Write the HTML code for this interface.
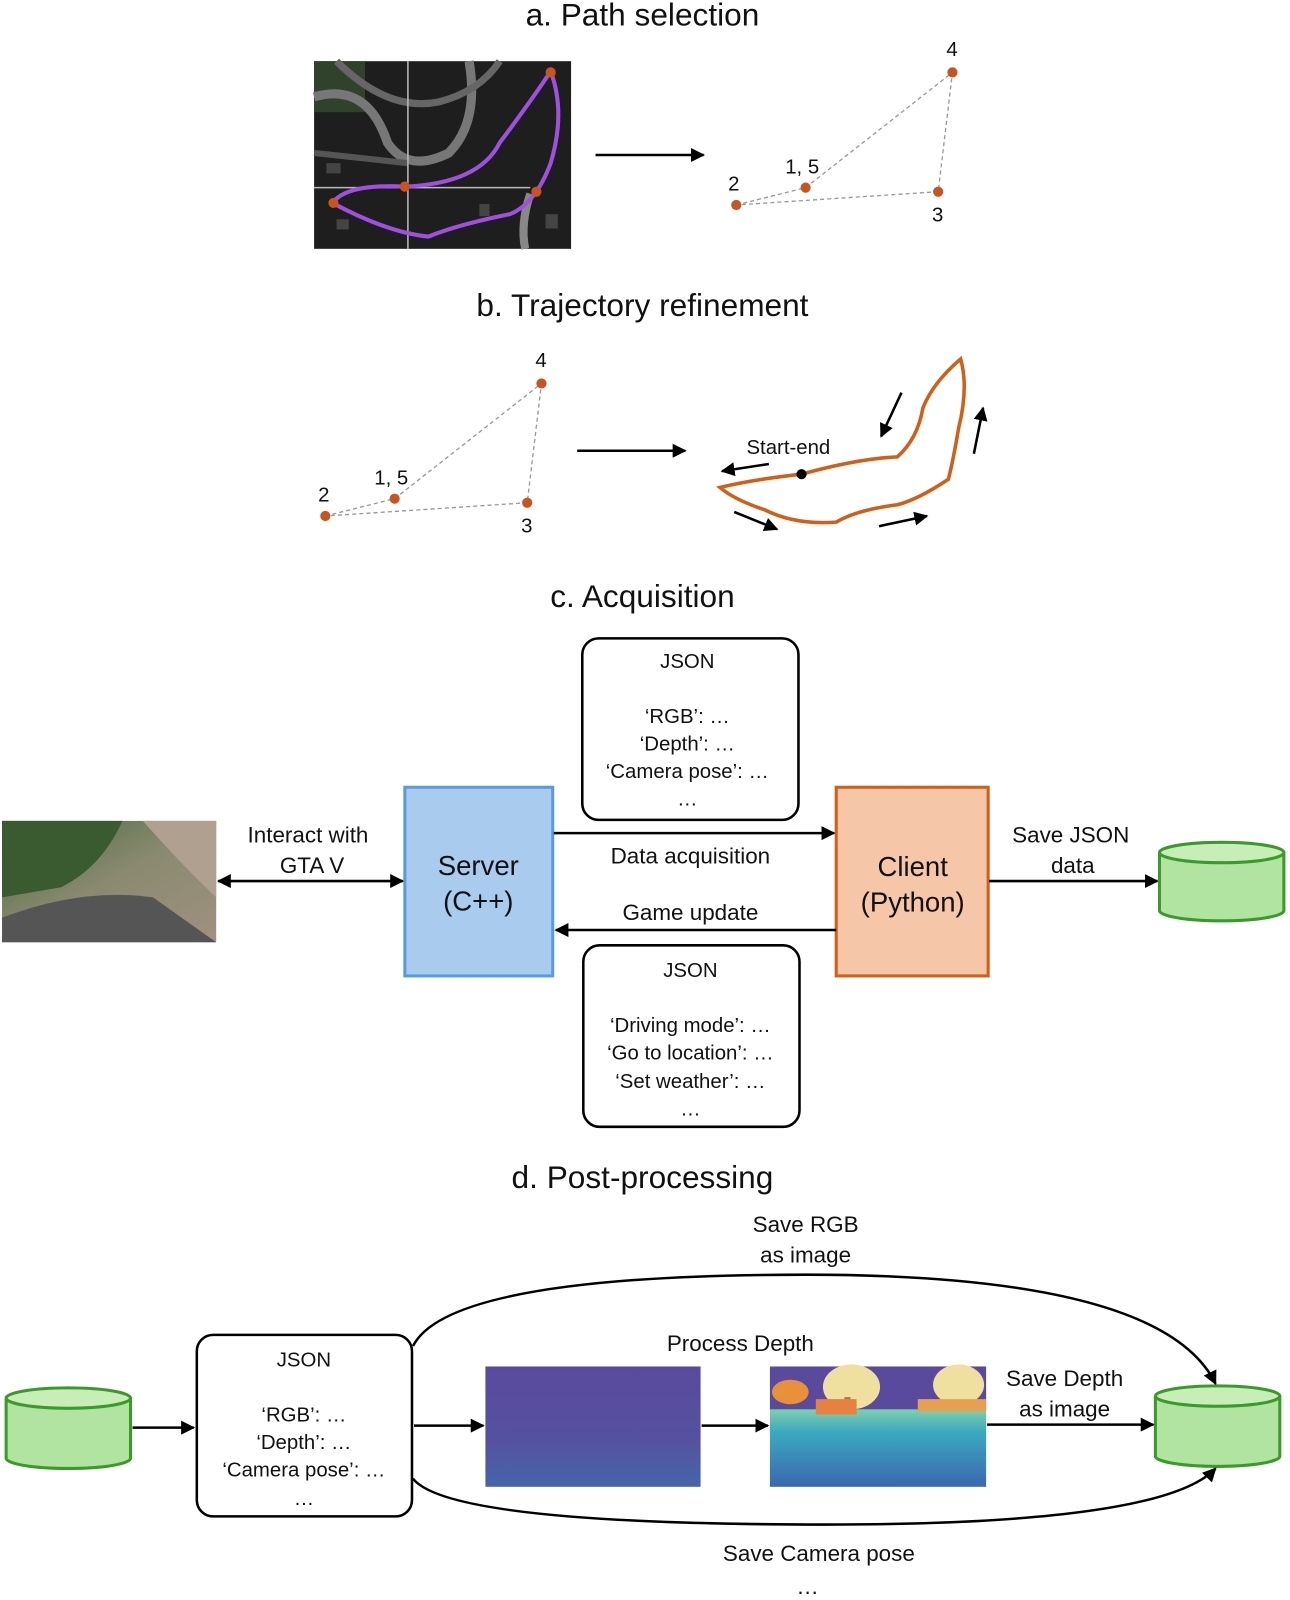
<!DOCTYPE html>
<html><head><meta charset="utf-8"><style>html,body{margin:0;padding:0;background:#fff}svg{display:block}text{font-family:"Liberation Sans",sans-serif;fill:#111}</style></head><body>
<svg width="1290" height="1600" viewBox="0 0 1265 1569" xmlns="http://www.w3.org/2000/svg">
<defs>
<marker id="a" viewBox="0 0 10 10" refX="9" refY="5" markerWidth="5.5" markerHeight="5.5" orient="auto-start-reverse"><path d="M0,0L10,5L0,10z" fill="#000"/></marker>
<linearGradient id="dg" x1="0" y1="0" x2="0" y2="1"><stop offset="0" stop-color="#5a4a9e"/><stop offset="0.6" stop-color="#5650a0"/><stop offset="1" stop-color="#4466aa"/></linearGradient>
<linearGradient id="cg" x1="0" y1="0" x2="0" y2="1"><stop offset="0" stop-color="#d8e8a0"/><stop offset="0.3" stop-color="#90dca8"/><stop offset="0.55" stop-color="#3aa8c0"/><stop offset="1" stop-color="#3a68b0"/></linearGradient>
<linearGradient id="pg" x1="0" y1="0" x2="1" y2="1"><stop offset="0" stop-color="#4a6a40"/><stop offset="0.5" stop-color="#8a8a70"/><stop offset="1" stop-color="#a09080"/></linearGradient>
</defs>
<g font-size="31"><text x="630" y="25" text-anchor="middle">a. Path selection</text>
<text x="630" y="310" text-anchor="middle">b. Trajectory refinement</text>
<text x="630" y="595" text-anchor="middle">c. Acquisition</text>
<text x="630" y="1165" text-anchor="middle">d. Post-processing</text></g>
<!-- map -->
<rect x="308" y="60" width="252" height="184" fill="#1e1e1e"/>
<rect x="308" y="60" width="50" height="50" fill="#354a30" opacity="0.8"/>
<path d="M308,95 Q360,80 380,140 Q400,170 440,150 Q470,120 460,60" stroke="#777" stroke-width="9" fill="none"/>
<path d="M330,60 Q380,110 430,100 Q470,90 490,60" stroke="#666" stroke-width="7" fill="none"/>
<path d="M520,190 Q510,220 515,244" stroke="#888" stroke-width="8" fill="none"/>
<path d="M308,150 L400,160" stroke="#555" stroke-width="6"/>
<g fill="#444"><rect x="330" y="215" width="12" height="10"/><rect x="470" y="200" width="10" height="12"/><rect x="535" y="210" width="12" height="14"/><rect x="320" y="160" width="14" height="10"/></g>
<line x1="400" y1="60" x2="400" y2="244" stroke="#bbb" stroke-width="1.5"/>
<line x1="308" y1="184" x2="520" y2="184" stroke="#bbb" stroke-width="1.5"/>
<path d="M326,199 Q340,180 397,183 Q470,180 490,140 Q520,100 540,70 Q555,110 540,160 Q525,200 500,210 Q450,220 420,232 Q380,228 326,199z" stroke="#a050e0" stroke-width="4" fill="none"/>
<g fill="#c85520"><circle cx="540" cy="71" r="5"/><circle cx="526" cy="188" r="5"/><circle cx="397" cy="183" r="5"/><circle cx="327" cy="199" r="5"/></g>
<line x1="584" y1="152" x2="690" y2="152" stroke="#000" stroke-width="2.5" marker-end="url(#a)"/>
<!-- a dots -->
<g stroke="#999" stroke-dasharray="4,3" fill="none" stroke-width="1.3"><path d="M722,201 L790,184 L934,71 L920,188 Z"/></g>
<g fill="#c85520"><circle cx="722" cy="201" r="5"/><circle cx="790" cy="184" r="5"/><circle cx="934" cy="71" r="5"/><circle cx="920" cy="188" r="5"/></g>
<g font-size="20"><text x="928" y="55">4</text><text x="770" y="170">1, 5</text><text x="714" y="187">2</text><text x="914" y="217">3</text></g>
<!-- b dots -->
<g stroke="#999" stroke-dasharray="4,3" fill="none" stroke-width="1.3"><path d="M319,506 L387,489 L531,376 L517,493 Z"/></g>
<g fill="#c85520"><circle cx="319" cy="506" r="5"/><circle cx="387" cy="489" r="5"/><circle cx="531" cy="376" r="5"/><circle cx="517" cy="493" r="5"/></g>
<g font-size="20"><text x="525" y="360">4</text><text x="367" y="475">1, 5</text><text x="312" y="492">2</text><text x="511" y="522">3</text></g>
<line x1="566" y1="442" x2="672" y2="442" stroke="#000" stroke-width="2.5" marker-end="url(#a)"/>
<path d="M786,465 Q840,450 880,448 Q900,430 905,400 Q915,375 942,352 Q950,380 940,420 Q935,450 930,470 Q900,490 880,495 Q840,500 820,512 Q780,515 750,500 Q720,490 706,478 Q740,470 786,465z" stroke="#d06018" stroke-width="3.5" fill="none"/>
<circle cx="786" cy="465" r="5" fill="#000"/>
<text x="732" y="445" font-size="20">Start-end</text>
<g stroke="#000" stroke-width="2.5" marker-end="url(#a)"><line x1="754" y1="455" x2="708" y2="462"/><line x1="884" y1="385" x2="864" y2="428"/><line x1="955" y1="445" x2="964" y2="400"/><line x1="862" y1="516" x2="909" y2="506"/><line x1="720" y1="502" x2="762" y2="519"/></g>
<!-- c -->
<rect x="571" y="626" width="212" height="178" rx="16" fill="#fff" stroke="#000" stroke-width="2.5"/>
<g font-size="20" text-anchor="middle"><text x="674" y="655">JSON</text><text x="674" y="709">‘RGB’: …</text><text x="674" y="736">‘Depth’: …</text><text x="674" y="763">‘Camera pose’: …</text><text x="674" y="790">…</text></g>
<rect x="572" y="927" width="212" height="178" rx="16" fill="#fff" stroke="#000" stroke-width="2.5"/>
<g font-size="20" text-anchor="middle"><text x="677" y="958">JSON</text><text x="677" y="1012">‘Driving mode’: …</text><text x="677" y="1039">‘Go to location’: …</text><text x="677" y="1067">‘Set weather’: …</text><text x="677" y="1094">…</text></g>
<rect x="2" y="805" width="210" height="119" fill="url(#pg)"/>
<path d="M2,900 Q80,870 150,880 L212,924 L2,924z" fill="#555"/>
<path d="M2,805 L120,805 Q100,850 60,870 L2,880z" fill="#3a5a30"/>
<path d="M140,805 L212,805 L212,880 Q180,850 140,805z" fill="#b0a090"/>
<rect x="397" y="772" width="145" height="185" fill="#a8cbee" stroke="#5a9be0" stroke-width="3"/>
<rect x="820" y="772" width="149" height="185" fill="#f5c6a8" stroke="#d06018" stroke-width="3"/>
<g font-size="27" text-anchor="middle"><text x="469" y="858">Server</text><text x="469" y="893">(C++)</text><text x="895" y="859">Client</text><text x="895" y="894">(Python)</text></g>
<line x1="214" y1="864" x2="395" y2="864" stroke="#000" stroke-width="2.5" marker-start="url(#a)" marker-end="url(#a)"/>
<line x1="543" y1="817" x2="818" y2="817" stroke="#000" stroke-width="2.5" marker-end="url(#a)"/>
<line x1="820" y1="912" x2="545" y2="912" stroke="#000" stroke-width="2.5" marker-end="url(#a)"/>
<line x1="970" y1="864" x2="1135" y2="864" stroke="#000" stroke-width="2.5" marker-end="url(#a)"/>
<g font-size="22" text-anchor="middle"><text x="302" y="826">Interact with</text><text x="306" y="856">GTA V</text><text x="677" y="847">Data acquisition</text><text x="677" y="902">Game update</text><text x="1050" y="826">Save JSON</text><text x="1052" y="856">data</text></g>
<g stroke="#3a9a2a" stroke-width="3" fill="#b0e4a0"><path d="M1137,836 L1137,893 A61,10 0 0 0 1259,893 L1259,836"/><ellipse cx="1198" cy="836" rx="61" ry="10" fill="#c8eeb8"/></g>
<!-- d -->
<g stroke="#3a9a2a" stroke-width="3" fill="#b0e4a0"><path d="M6,1371 L6,1430 A61,10 0 0 0 128,1430 L128,1371"/><ellipse cx="67" cy="1371" rx="61" ry="10" fill="#c8eeb8"/>
<path d="M1133,1369 L1133,1428 A61,10 0 0 0 1255,1428 L1255,1369"/><ellipse cx="1194" cy="1369" rx="61" ry="10" fill="#c8eeb8"/></g>
<rect x="193" y="1309" width="211" height="178" rx="16" fill="#fff" stroke="#000" stroke-width="2.5"/>
<g font-size="20" text-anchor="middle"><text x="298" y="1340">JSON</text><text x="298" y="1394">‘RGB’: …</text><text x="298" y="1421">‘Depth’: …</text><text x="298" y="1448">‘Camera pose’: …</text><text x="298" y="1476">…</text></g>
<rect x="476" y="1340" width="211" height="118" fill="url(#dg)"/>
<rect x="755" y="1340" width="212" height="118" fill="url(#cg)"/>
<rect x="755" y="1340" width="212" height="42" fill="#5a4a9e"/>
<g fill="#f0e0a0"><ellipse cx="835" cy="1360" rx="28" ry="22"/><ellipse cx="940" cy="1358" rx="25" ry="20"/><ellipse cx="775" cy="1365" rx="18" ry="12" fill="#e8903a"/><rect x="828" y="1370" width="6" height="15" fill="#c07040"/><rect x="800" y="1372" width="40" height="15" fill="#e88040"/><rect x="900" y="1372" width="67" height="12" fill="#e8a050"/></g>
<line x1="130" y1="1400" x2="190" y2="1400" stroke="#000" stroke-width="2.5" marker-end="url(#a)"/>
<line x1="406" y1="1398" x2="474" y2="1398" stroke="#000" stroke-width="2.5" marker-end="url(#a)"/>
<line x1="688" y1="1398" x2="753" y2="1398" stroke="#000" stroke-width="2.5" marker-end="url(#a)"/>
<line x1="968" y1="1397" x2="1131" y2="1397" stroke="#000" stroke-width="2.5" marker-end="url(#a)"/>
<path d="M405,1320 Q440,1250 790,1250 Q1140,1250 1192,1357" stroke="#000" stroke-width="2.5" fill="none" marker-end="url(#a)"/>
<path d="M405,1450 Q440,1495 810,1495 Q1140,1495 1192,1440" stroke="#000" stroke-width="2.5" fill="none" marker-end="url(#a)"/>
<g font-size="22" text-anchor="middle"><text x="790" y="1208">Save RGB</text><text x="790" y="1238">as image</text><text x="726" y="1325">Process Depth</text><text x="1044" y="1359">Save Depth</text><text x="1044" y="1389">as image</text><text x="803" y="1531">Save Camera pose</text><text x="792" y="1563">…</text></g>
</svg>
</body></html>
